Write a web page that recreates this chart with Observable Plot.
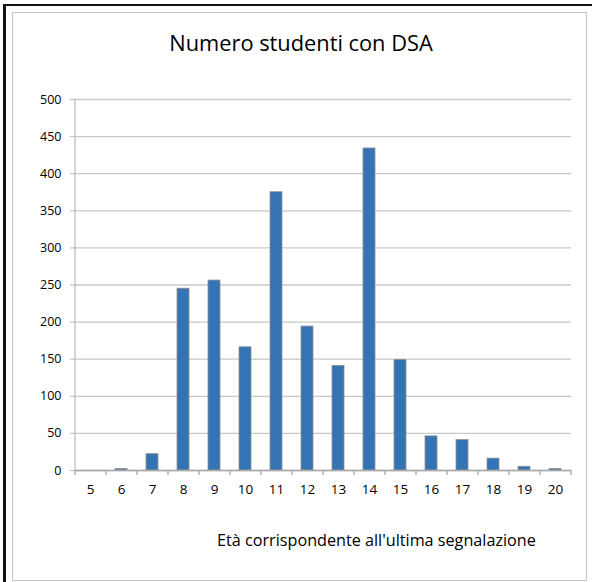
<!DOCTYPE html>
<html>
<head>
<meta charset="utf-8">
<script src="https://cdn.jsdelivr.net/npm/d3@7"></script>
<script src="https://cdn.jsdelivr.net/npm/@observablehq/plot@0.6"></script>
<style>
  html, body { margin: 0; padding: 0; background: #fff; }
  #wrap { position: relative; width: 592px; height: 582px; overflow: hidden; font-family: "Open Sans", "Lato", sans-serif; }
  #outer { position: absolute; left: 3px; top: 4px; width: 600px; height: 600px; border-left: 3px solid #111; border-top: 2.5px solid #111; box-sizing: border-box; }
  #inner { position: absolute; left: 12px; top: 12px; width: 575px; height: 569px; border: 1.5px solid #c4c4c4; box-sizing: border-box; }
  #title { position: absolute; left: 0; width: 602px; top: 28px; text-align: center; font-size: 21.8px; color: #000; line-height: 30px; }
  #caption { position: absolute; left: 217px; top: 529px; font-size: 16.2px; color: #000; white-space: nowrap; line-height: 22px; }
  #chart { position: absolute; left: 0; top: 0; }
</style>
</head>
<body>
<div id="wrap">
  <div id="outer"></div>
  <div id="inner"></div>
  <div id="chart"></div>
  <div id="title">Numero studenti con DSA</div>
  <div id="caption">Età corrispondente all'ultima segnalazione</div>
</div>
<script>
const ages = ["5","6","7","8","9","10","11","12","13","14","15","16","17","18","19","20"];
const students = [0, 2, 22, 245, 256, 166, 375, 194, 141, 434, 149, 46, 41, 16, 5, 2];
const yTicks = [0, 50, 100, 150, 200, 250, 300, 350, 400, 450, 500];

const data = ages.map((a, i) => ({age: a, n: students[i]}));
const half = 15.5;

const chart = Plot.plot({
  width: 592,
  height: 582,
  marginLeft: 75,
  marginRight: 21,
  marginTop: 99,
  marginBottom: 112,
  style: {fontFamily: "'Open Sans', Lato, sans-serif", background: "transparent", color: "#000"},
  x: {domain: ages, paddingInner: 0.6, paddingOuter: 0.3, axis: null},
  y: {domain: [0, 500], axis: null},
  marks: [
    Plot.gridY(yTicks, {stroke: "#c8c8c8", strokeOpacity: 1, strokeWidth: 1.3}),
    Plot.axisY(yTicks, {tickSize: 5, tickPadding: 9, stroke: "#c8c8c8", strokeWidth: 1.3, fill: "#000", fontSize: 12.5, label: null}),
    Plot.ruleX(["5"], {dx: -half, stroke: "#bdbdbd", strokeWidth: 1.3}),
    Plot.barY(data, {x: "age", y: "n", fill: "#3474b4", stroke: "#8f8f8f", strokeWidth: 0.8}),
    Plot.ruleY([0], {stroke: "#a8a8a8", strokeWidth: 1.3}),
    Plot.axisX(ages, {tickSize: 5, dx: -half, stroke: "#a8a8a8", strokeWidth: 1.3, tickFormat: () => "", label: null}),
    Plot.axisX(["20"], {tickSize: 5, dx: half, stroke: "#a8a8a8", strokeWidth: 1.3, tickFormat: () => "", label: null}),
    Plot.axisX(ages, {tickSize: 0, tickPadding: 14, fill: "#000", fontSize: 13.5, label: null})
  ]
});
document.getElementById("chart").appendChild(chart);
</script>
</body>
</html>
